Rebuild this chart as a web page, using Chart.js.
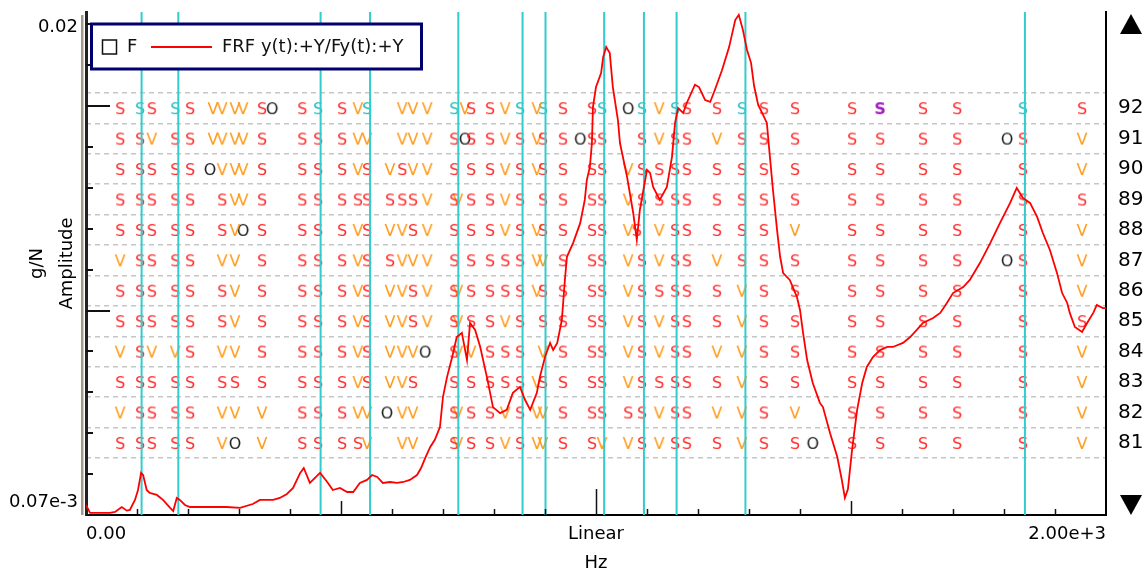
<!DOCTYPE html>
<html>
<head>
<meta charset="utf-8">
<title>Stabilization diagram</title>
<script src="https://cdn.jsdelivr.net/npm/chart.js@4.4.1/dist/chart.umd.min.js"></script>
<style>
  html, body { margin: 0; padding: 0; background: #fff; }
  #chart { display: block; }
</style>
</head>
<body>
<canvas id="chart" width="1146" height="572"></canvas>
<script>
// FRF y(t):+Y/Fy(t):+Y (Hz / g/N)
const frfHz = [
  0, 8, 27, 47, 57, 70, 80, 86, 96, 102,
  108, 112, 119, 125, 139, 151, 165, 171, 178, 184,
  194, 204, 224, 249, 276, 302, 327, 341, 367, 380,
  394, 406, 420, 427, 439, 445, 459, 473, 484, 498,
  512, 524, 537, 551, 561, 571, 582, 596, 610, 622,
  635, 649, 657, 665, 675, 684, 694, 700, 708, 718,
  727, 737, 747, 753, 763, 773, 786, 798, 812, 825,
  837, 851, 861, 871, 884, 890, 900, 910, 916, 924,
  933, 939, 943, 955, 969, 978, 982, 988, 992, 994,
  1000, 1010, 1014, 1020, 1027, 1033, 1043, 1047, 1061, 1073,
  1080, 1086, 1100, 1106, 1112, 1125, 1139, 1149, 1155, 1161,
  1171, 1178, 1194, 1202, 1214, 1224, 1233, 1247, 1261, 1273,
  1280, 1288, 1296, 1304, 1310, 1318, 1325, 1335, 1341, 1347,
  1355, 1361, 1367, 1380, 1394, 1400, 1406, 1414, 1425, 1439,
  1445, 1459, 1473, 1482, 1488, 1494, 1502, 1512, 1522, 1531,
  1543, 1557, 1571, 1582, 1602, 1616, 1629, 1641, 1661, 1675,
  1688, 1700, 1720, 1733, 1753, 1773, 1792, 1812, 1825, 1837,
  1851, 1865, 1876, 1890, 1904, 1914, 1924, 1929, 1939, 1953,
  1963, 1975, 1982, 1994, 2000
];
const frfAmp = [
  6.76e-5, 6.15e-5, 6.15e-5, 6.15e-5, 6.22e-5, 6.60e-5, 6.32e-5, 6.37e-5, 7.18e-5, 8.08e-5,
  9.90e-5, 9.66e-5, 8.08e-5, 7.80e-5, 7.62e-5, 7.18e-5, 6.53e-5, 6.29e-5, 7.35e-5, 7.18e-5,
  6.76e-5, 6.60e-5, 6.60e-5, 6.60e-5, 6.60e-5, 6.53e-5, 6.84e-5, 7.18e-5, 7.18e-5, 7.35e-5,
  7.71e-5, 8.28e-5, 9.90e-5, 1.05e-4, 8.79e-5, 9.11e-5, 9.90e-5, 8.89e-5, 8.08e-5, 8.28e-5,
  7.89e-5, 7.89e-5, 8.79e-5, 9.11e-5, 9.66e-5, 9.44e-5, 8.79e-5, 8.89e-5, 8.79e-5, 8.89e-5,
  9.11e-5, 9.66e-5, 1.05e-4, 1.18e-4, 1.35e-4, 1.47e-4, 1.71e-4, 2.45e-4, 3.11e-4, 3.94e-4,
  5.00e-4, 5.25e-4, 3.80e-4, 5.91e-4, 5.44e-4, 4.44e-4, 3.11e-4, 2.17e-4, 2.02e-4, 2.10e-4,
  2.57e-4, 2.76e-4, 2.36e-4, 2.10e-4, 2.57e-4, 3.11e-4, 3.94e-4, 4.66e-4, 4.28e-4, 4.66e-4,
  6.12e-4, 9.86e-4, 1.30e-3, 1.53e-3, 1.94e-3, 2.56e-3, 3.24e-3, 3.79e-3, 5.04e-3, 7.74e-3,
  9.82e-3, 1.16e-2, 1.40e-2, 1.58e-2, 1.47e-2, 9.82e-3, 6.63e-3, 5.04e-3, 3.36e-3, 2.19e-3,
  1.59e-3, 2.27e-3, 3.66e-3, 3.53e-3, 2.99e-3, 2.56e-3, 2.99e-3, 4.27e-3, 6.40e-3, 7.65e-3,
  7.21e-3, 8.12e-3, 1.01e-2, 9.82e-3, 8.41e-3, 8.22e-3, 9.48e-3, 1.20e-2, 1.58e-2, 2.18e-2,
  2.32e-2, 1.94e-2, 1.53e-2, 1.31e-2, 9.94e-3, 7.93e-3, 7.29e-3, 6.40e-3, 4.27e-3, 2.88e-3,
  1.79e-3, 1.30e-3, 1.07e-3, 9.86e-4, 8.05e-4, 6.90e-4, 5.25e-4, 3.80e-4, 2.89e-4, 2.28e-4,
  2.17e-4, 1.59e-4, 1.20e-4, 9.11e-5, 7.35e-5, 8.18e-5, 1.30e-4, 2.10e-4, 2.89e-4, 3.50e-4,
  3.94e-4, 4.28e-4, 4.44e-4, 4.44e-4, 4.66e-4, 5.00e-4, 5.44e-4, 5.91e-4, 6.27e-4, 6.66e-4,
  7.50e-4, 8.44e-4, 9.07e-4, 9.86e-4, 1.21e-3, 1.53e-3, 1.94e-3, 2.47e-3, 2.95e-3, 2.62e-3,
  2.47e-3, 2.09e-3, 1.73e-3, 1.41e-3, 1.07e-3, 8.44e-4, 7.50e-4, 6.66e-4, 5.63e-4, 5.31e-4,
  5.91e-4, 6.66e-4, 7.32e-4, 7.06e-4, 7.06e-4
];

// pole columns (Hz) of the stabilization diagram
const poleHz = [
  67, 106, 129, 175, 204, 243, 249, 267, 292, 308,
  345, 365, 424, 455, 502, 533, 551, 590, 596, 620,
  641, 665, 669, 722, 729, 743, 755, 792, 822, 851,
  884, 896, 935, 969, 992, 1012, 1063, 1080, 1090, 1124,
  1155, 1178, 1237, 1286, 1329, 1390, 1425, 1502, 1557, 1641,
  1708, 1806, 1837, 1953
];
const modelOrders = [92, 91, 90, 89, 88, 87, 86, 85, 84, 83, 82, 81];
// one char per column: S stable, V stable vector, O new pole, C selected, P selected (alt), . none
const poleCodes = [
  "SCSCS.VVVVSOSCSVC..VV.VC.VSSVCVCS.SCO.CVCSSCSS.SPSS.CS",
  "SSVSS.VVVVS.SSSVV..VV.VS.OSSVSVSSOSS..SVSSVSSS.SSSSOSV",
  "SSSSSO.VVVS.SSSVS.VSV.VS..SSVSVSS.SSV.SSSSSSSS.SSSS.SV",
  "SSSSS..SVVS.SSSSS.SSS.VSV.SSVS.SS.SSV.SSSSSSSS.SSSS.SS",
  "SSSSS..SVOS.SSSVS.VVS.VS..SSVSVSS.SSVS.VSSSSSV.SSSS.SV",
  "VSSSS..VV.S.SSSVS.SVV.VS..SSSSVVS.SSV.SVSSVSSS.SSSSOSV",
  "SSSSS..SV.S.SSSVS.VVS.VSV.SSSSVSS.SSV.SSSSSVSS.SSSS.SV",
  "SSSSS..SV.S.SSSVS.VVS.VSV.SSVS.SS.SSV.SVSSSVSS.SSSS.SS",
  "VSVVS..VV.S.SSSVS.VVVO.SV.VSSS.VS.SSV.SVSSVVSS.SSSS.SV",
  "SSSSS..SS.S.SSSVS.VVS..S..SSSSVSS.SSV.SSSSSVSS.SSSS.SV",
  "VSSSS..VV.V.SSSVVO.VV..SV.SSVSVVS.SSS.SVSSVVSV.SSSS.SV",
  "SSSSS..VO.V.SSSSV..VV..SV.SSVSVVS.SVV.SVSSSVSSOSSSS.SV"
];

// selected modes (cyan lines), Hz
const selectedHz = [109, 181, 460, 557, 730, 856, 901, 1016, 1094, 1158, 1293, 1841];

// axes
const freqMin = 0, freqMax = 2000;
const freqTicks = [0, 100, 200, 300, 400, 500, 600, 700, 800, 900, 1000,
  1100, 1200, 1300, 1400, 1500, 1600, 1700, 1800, 1900, 2000];
const freqLabels = { 0: "0.00", 1000: "Linear", 2000: "2.00e+3" };
const ampMin = 6e-5, ampMax = 0.024;
const ampLabelValues = [7e-5, 0.02];
const ampLabels = ["0.07e-3", "0.02"];
const ampTickRatio = 1.6275; // spacing of the small marks on the amplitude axis
const orderMin = 78.63, orderMax = 95.16;
const orderGridLines = [80.5, 81.5, 82.5, 83.5, 84.5, 85.5, 86.5, 87.5, 88.5, 89.5, 90.5, 91.5, 92.5];

const FONT = '"DejaVu Sans", "Liberation Sans", sans-serif';
Chart.defaults.font.family = FONT;
Chart.defaults.color = "#000";

// letter marks used as point styles
function glyph(ch, color, bold) {
  const c = document.createElement("canvas");
  c.width = 14;
  c.height = 18;
  const g = c.getContext("2d");
  g.font = (bold ? "bold " : "") + "16px " + FONT;
  g.fillStyle = color;
  g.textAlign = "center";
  g.textBaseline = "alphabetic";
  g.fillText(ch, 7, 15);
  return c;
}

const markStyles = {
  S: { label: "stable", img: glyph("S", "#ff2a2a") },
  V: { label: "vector", img: glyph("V", "#ff9a1a") },
  O: { label: "new", img: glyph("O", "#1a1a1a") },
  C: { label: "selected", img: glyph("S", "#1fbdbd") },
  P: { label: "selected alt", img: glyph("S", "#a21fc4", true) },
};

const marks = { S: [], V: [], O: [], C: [], P: [] };
modelOrders.forEach((order, r) => {
  const codes = poleCodes[r];
  for (let i = 0; i < poleHz.length && i < codes.length; i++) {
    const code = codes[i];
    if (marks[code]) marks[code].push({ x: poleHz[i], y: order });
  }
});

const selectedLines = [];
selectedHz.forEach((f) => {
  selectedLines.push({ x: f, y: orderMin }, { x: f, y: orderMax }, { x: f, y: null });
});

const letterSets = Object.keys(marks).map((k) => ({
  label: markStyles[k].label,
  data: marks[k],
  yAxisID: "yR",
  pointStyle: markStyles[k].img,
  pointRadius: 5,
  showLine: false,
}));

// frame bits: inner tick marks, legend box, scroll arrows
const frame = {
  id: "frame",
  afterDraw(chart) {
    const { ctx, chartArea: a, scales } = chart;
    ctx.save();

    ctx.fillStyle = "#a49a8b";
    ctx.fillRect(a.left - 5, a.top + 3, 2.5, a.bottom - a.top - 3);

    ctx.strokeStyle = "#111";
    ctx.lineWidth = 1.5;
    freqTicks.forEach((v) => {
      if (v === freqMin || v === freqMax) return;
      const px = Math.round(scales.x.getPixelForValue(v)) + 0.5;
      const len = v % 1000 === 0 ? 26 : v % 500 === 0 ? 14 : 6;
      ctx.beginPath();
      ctx.moveTo(px, a.bottom);
      ctx.lineTo(px, a.bottom - len);
      ctx.stroke();
    });

    ctx.lineWidth = 2;
    for (let k = 0; k <= 12; k++) {
      const v = ampMin * Math.pow(ampTickRatio, k);
      const py = Math.round(scales.yAmp.getPixelForValue(v));
      const len = k % 5 === 0 ? 24 : 7;
      ctx.beginPath();
      ctx.moveTo(a.left, py);
      ctx.lineTo(a.left + len, py);
      ctx.stroke();
    }

    // legend
    ctx.fillStyle = "#fff";
    ctx.fillRect(91.5, 24, 330, 45);
    ctx.strokeStyle = "#00006e";
    ctx.lineWidth = 3;
    ctx.strokeRect(91.5, 24, 330, 45);
    ctx.strokeStyle = "#111";
    ctx.lineWidth = 1.5;
    ctx.strokeRect(102.5, 40, 14, 14);
    ctx.font = "18px " + FONT;
    ctx.fillStyle = "#111";
    ctx.textBaseline = "middle";
    ctx.textAlign = "left";
    ctx.fillText("F", 127, 47);
    ctx.strokeStyle = "#ff0000";
    ctx.lineWidth = 2;
    ctx.beginPath();
    ctx.moveTo(151, 47);
    ctx.lineTo(212, 47);
    ctx.stroke();
    ctx.fillText(chart.data.datasets[0].label, 222, 47);

    // scroll arrows
    const ax = a.right + 25;
    ctx.fillStyle = "#000";
    ctx.beginPath();
    ctx.moveTo(ax - 11, 34);
    ctx.lineTo(ax + 11, 34);
    ctx.lineTo(ax, 14);
    ctx.closePath();
    ctx.fill();
    ctx.beginPath();
    ctx.moveTo(ax - 11, 495);
    ctx.lineTo(ax + 11, 495);
    ctx.lineTo(ax, 515);
    ctx.closePath();
    ctx.fill();

    ctx.restore();
  },
};

function noPad(s) {
  s.paddingTop = 0;
  s.paddingBottom = 0;
  s.paddingLeft = 0;
  s.paddingRight = 0;
}

new Chart(document.getElementById("chart"), {
  type: "scatter",
  data: {
    datasets: [
      {
        label: "FRF y(t):+Y/Fy(t):+Y",
        data: frfHz.map((x, i) => ({ x: x, y: frfAmp[i] })),
        yAxisID: "yAmp",
        showLine: true,
        borderColor: "#ff0000",
        borderWidth: 1.8,
        pointRadius: 0,
        tension: 0,
      },
      {
        label: "selected modes",
        data: selectedLines,
        yAxisID: "yR",
        showLine: true,
        spanGaps: false,
        borderColor: "#33cccc",
        borderWidth: 2,
        pointRadius: 0,
      },
      ...letterSets,
    ],
  },
  options: {
    responsive: false,
    animation: false,
    events: [],
    layout: { padding: { top: 12, left: 0, right: 0, bottom: 0 } },
    plugins: { legend: { display: false }, tooltip: { enabled: false } },
    scales: {
      x: {
        type: "linear",
        position: "bottom",
        min: freqMin,
        max: freqMax,
        afterBuildTicks: (s) => { s.ticks = freqTicks.map((v) => ({ value: v })); },
        ticks: {
          autoSkip: false,
          maxRotation: 0,
          align: "inner",
          padding: 9,
          font: { size: 18 },
          callback: (v) => freqLabels[v] || "",
        },
        grid: { display: false, drawTicks: false },
        border: { display: true, color: "#000", width: 2 },
        title: { display: true, text: "Hz", font: { size: 18, lineHeight: 1 }, padding: { top: 0, bottom: 0 } },
        afterFit: (s) => { s.height = 57; noPad(s); },
      },
      yAmp: {
        type: "logarithmic",
        position: "left",
        min: ampMin,
        max: ampMax,
        afterBuildTicks: (s) => { s.ticks = ampLabelValues.map((v) => ({ value: v })); },
        ticks: {
          padding: 8,
          font: { size: 18 },
          callback: (v, i) => ampLabels[i],
        },
        grid: { display: false, drawTicks: false },
        border: { display: true, color: "#222", width: 3 },
        title: {
          display: true,
          text: ["g/N", "Amplitude"],
          font: { size: 18, lineHeight: 30 / 18 },
          padding: { top: 22, bottom: 0 },
        },
        afterFit: (s) => { s.width = 86; noPad(s); },
      },
      yR: {
        type: "linear",
        position: "right",
        min: orderMin,
        max: orderMax,
        afterBuildTicks: (s) => { s.ticks = modelOrders.map((v) => ({ value: v })); },
        ticks: { padding: 12, font: { size: 20 }, callback: (v) => String(v) },
        grid: { display: false, drawTicks: false },
        border: { display: true, color: "#000", width: 2 },
        afterFit: (s) => { s.width = 40; noPad(s); },
      },
      yGrid: {
        type: "linear",
        position: "right",
        min: orderMin,
        max: orderMax,
        afterBuildTicks: (s) => { s.ticks = orderGridLines.map((v) => ({ value: v })); },
        ticks: { display: false },
        grid: { color: "#c6c6c6", lineWidth: 1.5, drawTicks: false },
        border: { display: false, dash: [5, 4] },
        afterFit: (s) => { s.width = 0; noPad(s); },
      },
    },
  },
  plugins: [frame],
});
</script>
</body>
</html>
